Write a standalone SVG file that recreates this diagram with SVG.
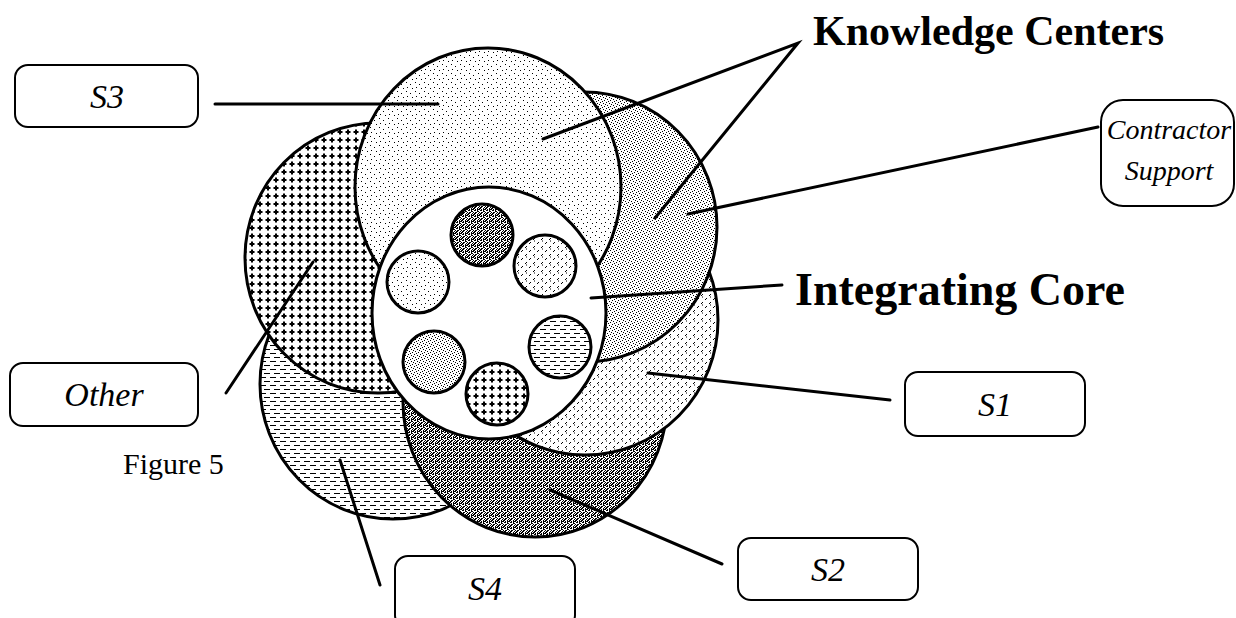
<svg xmlns="http://www.w3.org/2000/svg" width="1236" height="618" viewBox="0 0 1236 618">
<defs>
<pattern id="pS3" width="9" height="9" patternUnits="userSpaceOnUse">
<rect width="9" height="9" fill="#fff"/>
<path d="M1 1h1v1h-1z M5 3h1v1h-1z M2 6h1v1h-1z M7 7h1v1h-1z" fill="#000"/>
</pattern>
<pattern id="pCS" width="6" height="6" patternUnits="userSpaceOnUse">
<rect width="6" height="6" fill="#fff"/>
<path d="M0 0h1v1h-1z M3 1h1v1h-1z M1 3h1v1h-1z M4 4h1v1h-1z M5 2h1v1h-1z M2 5h1v1h-1z" fill="#000"/>
</pattern>
<pattern id="pS1" width="8" height="8" patternUnits="userSpaceOnUse">
<rect width="8" height="8" fill="#fff"/>
<path d="M1 4l2-2 M5 8l2-2 M6 1h1" stroke="#000" stroke-width="1" fill="none"/>
</pattern>
<pattern id="pS2" width="6" height="6" patternUnits="userSpaceOnUse">
<rect width="6" height="6" fill="#fff"/>
<path d="M0 0h2v1h-2z M3 0h1v1h-1z M3 1h2v1h-2z M2 2h1v1h-1z M5 2h1v1h-1z M0 3h2v1h-2z M3 4h1v2h-1z M5 4h1v1h-1z M1 5h1v1h-1z M4 3h1v1h-1z M0 4h1v1h-1z M1 2h1v1h-1z M4 5h2v1h-2z" fill="#000"/>
</pattern>
<pattern id="pOT" width="8" height="8" patternUnits="userSpaceOnUse">
<rect width="8" height="8" fill="#fff"/>
<path d="M1.5 4h5 M4 1.5v5" stroke="#000" stroke-width="2" fill="none"/>
</pattern>
<pattern id="pS4" width="10" height="8" patternUnits="userSpaceOnUse">
<rect width="10" height="8" fill="#fff"/>
<path d="M0 1.5h6 M4 5.5h6" stroke="#000" stroke-width="1" fill="none"/>
</pattern>
</defs>
<style>
.ring{stroke:#000;stroke-width:3}
.dot{stroke:#000;stroke-width:3}
.box{fill:#fff;stroke:#000;stroke-width:2}
.lbl{font-family:"Liberation Serif","Times New Roman",serif;font-style:italic;font-size:34px;fill:#000;text-anchor:middle}
.lbl2{font-size:28px}
.big{font-family:"Liberation Serif","Times New Roman",serif;font-weight:bold;font-size:42px;fill:#000}
.fig{font-family:"Liberation Serif","Times New Roman",serif;font-size:30px;fill:#000}
.conn{stroke:#000;stroke-width:3;fill:none;stroke-linecap:round}
</style>
<rect width="1236" height="618" fill="#fff"/>
<g id="circles">
<g id="circle-s4"><ellipse class="ring" cx="393" cy="384" rx="133" ry="135" fill="url(#pS4)"/></g>
<g id="circle-s2"><ellipse class="ring" cx="535" cy="402" rx="132" ry="135" fill="url(#pS2)"/></g>
<g id="circle-s1"><ellipse class="ring" cx="585" cy="320" rx="133" ry="135" fill="url(#pS1)"/></g>
<g id="circle-contractor"><ellipse class="ring" cx="584" cy="227" rx="133" ry="135" fill="url(#pCS)"/></g>
<g id="circle-other"><ellipse class="ring" cx="378" cy="258" rx="133" ry="135" fill="url(#pOT)"/></g>
<g id="circle-s3"><ellipse class="ring" cx="488" cy="187" rx="133" ry="139" fill="url(#pS3)"/></g>
<g id="core">
<ellipse class="ring" cx="489" cy="313" rx="117" ry="126" fill="#fff"/>
<circle class="dot" cx="482" cy="235" r="31" fill="url(#pS2)"/>
<circle class="dot" cx="545" cy="266" r="31" fill="url(#pS1)"/>
<circle class="dot" cx="418" cy="282" r="31" fill="url(#pS3)"/>
<circle class="dot" cx="560" cy="347" r="31" fill="url(#pS4)"/>
<circle class="dot" cx="434" cy="362" r="31" fill="url(#pCS)"/>
<circle class="dot" cx="497" cy="394" r="31" fill="url(#pOT)"/>
</g>
</g>
<g id="connectors">
<path class="conn" d="M215 104H438"/>
<path class="conn" d="M543 139L798 43L655 218" stroke-width="4" stroke-linejoin="miter"/>
<path class="conn" d="M688 214L1098 127"/>
<path class="conn" d="M591 298L782 285"/>
<path class="conn" d="M648 373L890 400"/>
<path class="conn" d="M550 490L722 564"/>
<path class="conn" d="M340 460L380 585"/>
<path class="conn" d="M313 262L226 393"/>
</g>
<g id="label-s3"><rect class="box" x="15" y="65" width="183" height="62" rx="13"/><text class="lbl" x="107" y="108">S3</text></g>
<g id="label-contractor"><rect class="box" x="1101" y="100" width="133" height="106" rx="22"/><text class="lbl lbl2" x="1169" y="139">Contractor</text><text class="lbl lbl2" x="1169" y="180">Support</text></g>
<g id="label-knowledge"><text class="big" x="813" y="45">Knowledge Centers</text></g>
<g id="label-core"><text class="big" x="795" y="305" style="font-size:46px">Integrating Core</text></g>
<g id="label-s1"><rect class="box" x="905" y="372" width="180" height="64" rx="13"/><text class="lbl" x="995" y="416">S1</text></g>
<g id="label-s2"><rect class="box" x="738" y="538" width="180" height="62" rx="13"/><text class="lbl" x="828" y="581">S2</text></g>
<g id="label-s4"><rect class="box" x="395" y="556" width="180" height="72" rx="13"/><text class="lbl" x="485" y="600">S4</text></g>
<g id="label-other"><rect class="box" x="10" y="363" width="188" height="63" rx="13"/><text class="lbl" x="104" y="406">Other</text></g>
<g id="caption"><text class="fig" x="123" y="474">Figure 5</text></g>
</svg>
